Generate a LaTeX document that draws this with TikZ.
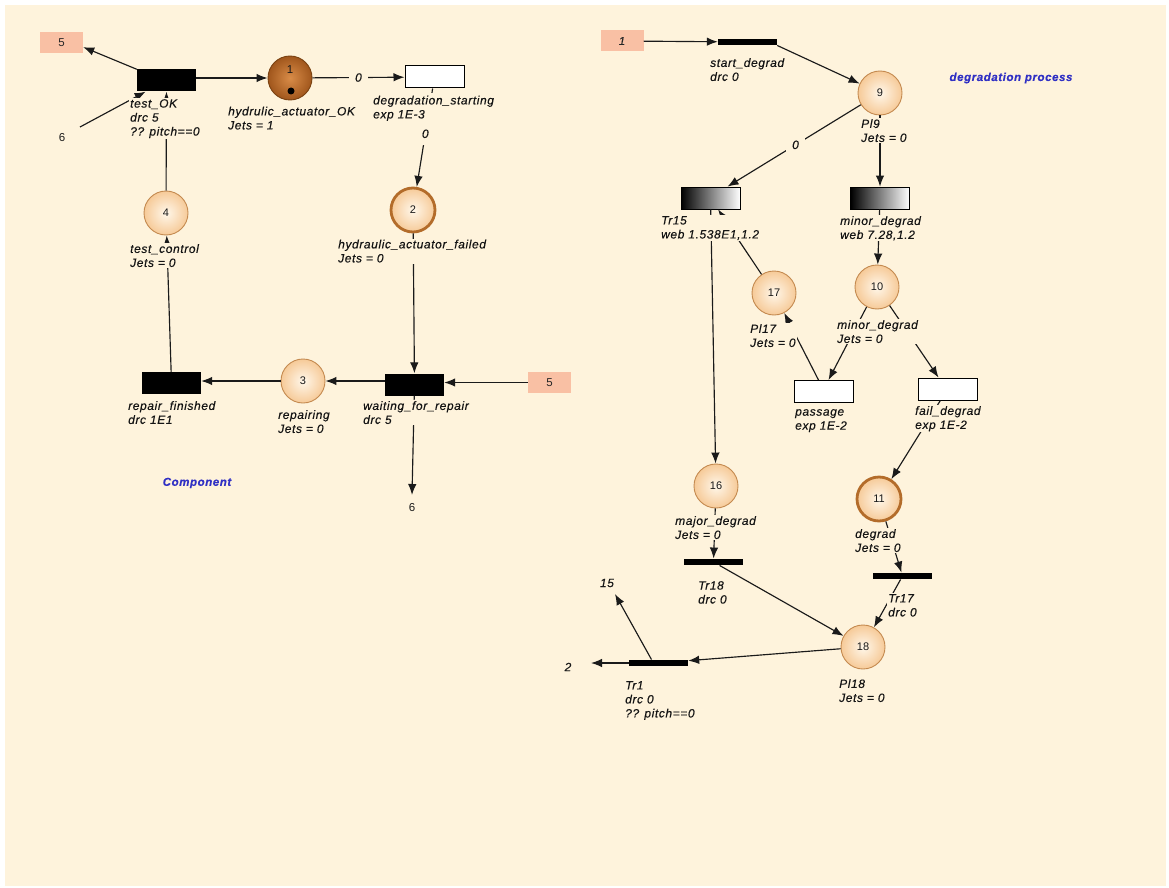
\documentclass[tikz,border=0pt]{standalone}
\usepackage{fontspec}
\setmainfont{Liberation Sans}
\newfontfamily\lblfamily{Liberation Sans}[LetterSpace=5,FakeBold=0.3]
\usetikzlibrary{arrows.meta,calc}

\definecolor{bg}{HTML}{FEF3DC}
\definecolor{salmon}{HTML}{F9C0A4}
\definecolor{pborder}{HTML}{C48A50}
\definecolor{pin}{HTML}{FFF7EA}
\definecolor{pout}{HTML}{F6CA98}
\definecolor{darkin}{HTML}{D98C48}
\definecolor{darkout}{HTML}{A0561C}
\definecolor{darkborder}{HTML}{7A4212}
\definecolor{thickborder}{HTML}{B36C2A}
\definecolor{bluetxt}{HTML}{3030C4}
\definecolor{linec}{HTML}{1A1A1A}

\begin{document}
\begin{tikzpicture}[x=1pt,y=-1pt,
  arc/.style={draw=linec, line width=1.15pt, -{Latex[length=11pt,width=8.5pt]}},
  place/.style={circle, minimum size=44pt, inner sep=0pt, draw=pborder, line width=0.9pt, inner color=pin, outer color=pout, text=black!90, font=\fontsize{11}{13}\selectfont},
  placedark/.style={place, draw=darkborder, inner color=darkin, outer color=darkout},
  placethick/.style={place, draw=thickborder, line width=2.8pt},
  trbox/.style={rectangle, minimum width=59pt, minimum height=22pt, inner sep=0pt},
  trblack/.style={trbox, fill=black},
  trwhite/.style={trbox, fill=white, draw=black, line width=1pt},
  trgrad/.style={trbox, left color=black, right color=white, draw=black, line width=0.8pt},
  trbar/.style={rectangle, minimum width=59pt, minimum height=6.5pt, inner sep=0pt, fill=black},
  refbox/.style={rectangle, fill=salmon, minimum width=43pt, minimum height=21pt, inner sep=0pt, text=black!85, font=\fontsize{11.5}{13}\selectfont},
  lbl/.style={anchor=north west, align=left, fill=bg, inner sep=1pt, text=black!92, font=\lblfamily\itshape\fontsize{12}{14}\selectfont},
  zlab/.style={fill=bg, inner xsep=6pt, inner ysep=4pt, text=black!92, font=\lblfamily\itshape\fontsize{12}{14}\selectfont},
  numup/.style={text=black!90, font=\fontsize{11.5}{13}\selectfont},
  numit/.style={text=black!90, font=\lblfamily\itshape\fontsize{12}{14}\selectfont},
  ttl/.style={text=bluetxt, font=\lblfamily\itshape\bfseries\fontsize{11.5}{13}\selectfont}
]
\useasboundingbox (0,0) rectangle (1169,888);
\fill[white] (0,0) rectangle (1169,888);
\fill[bg] (5,5) rectangle (1166,886);

% ---------------- left net: Component ----------------
\node[refbox] (box5L) at (61.5,42.5) {5};
\node[trblack] (testOK) at (166.5,80.5) {};
\node[placedark] (p1) at (290,78) {};
\node[circle, fill=black, minimum size=7pt, inner sep=0pt] (tok) at (291,91) {};
\node[numup] (p1num) at (290,70) {1};
\node[trwhite] (degStart) at (434.5,77) {};
\node[placethick] (p2) at (413,210) {2};
\node[place] (p4) at (166,213) {4};
\node[trblack] (waitRep) at (414.5,384.5) {};
\node[refbox] (box5R) at (549.5,382.5) {5};
\node[place] (p3) at (303,381) {3};
\node[trblack] (repFin) at (171.5,383) {};
\coordinate (c6) at (80,127);
\coordinate (c6b) at (412,495);
\node[numup] (l6a) at (62,138) {6};
\node[numup] (l6b) at (412,508) {6};

% ---------------- right net: degradation process ----------------
\node[refbox, font=\lblfamily\itshape\fontsize{11.5}{13}\selectfont] (box1) at (622,41) {1};
\node[trbar] (startDeg) at (747.5,42) {};
\node[place] (p9) at (880,93) {9};
\node[trgrad] (tr15) at (710.5,198) {};
\node[trgrad] (minDeg) at (880,198) {};
\node[place] (p17) at (774,293) {17};
\node[place] (p10) at (877,287) {10};
\node[trwhite] (passage) at (823.5,391.5) {};
\node[trwhite] (failDeg) at (947.5,389) {};
\node[place] (p16) at (716,486) {16};
\node[placethick] (p11) at (879,499) {11};
\node[trbar] (tr18) at (713.5,562) {};
\node[trbar] (tr17) at (902.5,576) {};
\node[place] (p18) at (863,647) {18};
\node[trbar] (tr1) at (658.5,663) {};
\coordinate (c2) at (591,663);
\coordinate (c15) at (615,594);
\node[numit] (l2) at (568,667) {2};
\node[numit] (l15) at (607,583) {15};

% ---------------- arcs ----------------
\draw[arc] (testOK.north west) -- (box5L.-12);
\draw[arc] (c6) -- (testOK);
\draw[arc] (testOK.east |- p1) -- (p1);
\draw[arc] (p1) -- node[zlab]{0} (degStart);
\draw[arc] (degStart) -- node[zlab,pos=0.46,inner ysep=7pt]{0} (p2);
\draw[arc] (p2) -- (waitRep);
\draw[arc] (box5R) -- (box5R -| waitRep.east);
\draw[arc] (waitRep.west |- p3) -- (p3);
\draw[arc] (waitRep) -- (c6b);
\draw[arc] (p3) -- (repFin.east |- p3);
\draw[arc] (repFin) -- (p4);
\draw[arc] (p4) -- (testOK);

\draw[arc] (box1) -- (startDeg);
\draw[arc] (startDeg.south east) -- (p9);
\draw[arc] (p9) -- node[zlab,pos=0.49]{0} ($(tr15.north)+(17,0)$);
\draw[arc] (p9) -- (minDeg);
\draw[arc] (minDeg) -- (p10);
\draw[arc] (tr15) -- (p16);
\draw[arc] (p17) -- (tr15);
\draw[arc] (p10) -- ($(passage.north)+(5,0)$);
\draw[arc] (p10) -- ($(failDeg.north)+(-9,0)$);
\draw[arc] ($(passage.north)+(-5,0)$) -- (p17);
\draw[arc] (failDeg) -- (p11);
\draw[arc] (p11) -- (tr17);
\draw[arc] (tr17) -- (p18);
\draw[arc] (p16) -- (tr18);
\draw[arc] (tr18) -- (p18);
\draw[arc] (p18) -- (tr1);
\draw[arc] (tr1.west) -- (c2);
\draw[arc] ($(tr1.north)+(-7,0)$) -- (c15);

% ---------------- labels ----------------
\node[lbl] (lTestOK) at (129,98) {test\_OK\\drc 5\\?? pitch==0};
\node[lbl] (lP1) at (227,105.5) {hydrulic\_actuator\_OK\\Jets = 1};
\node[lbl, inner ysep=3pt] (lDeg) at (372,92.5) {degradation\_starting\\exp 1E-3};
\node[lbl] (lP2) at (337,238.5) {hydraulic\_actuator\_failed\\Jets = 0};
\node[lbl] (lP4) at (129,243) {test\_control\\Jets = 0};
\node[lbl] (lRep) at (127,400) {repair\_finished\\drc 1E1};
\node[lbl] (lP3) at (277,409) {repairing\\Jets = 0};
\node[lbl] (lWait) at (362,400) {waiting\_for\_repair\\drc 5};
\node[ttl] (tComp) at (197,483) {Component};

\node[lbl] (lStart) at (709,57) {start\_degrad\\drc 0};
\node[lbl] (lP9) at (860,118) {Pl9\\Jets = 0};
\node[lbl] (lTr15) at (660,215) {Tr15\\web 1.538E1,1.2};
\node[lbl] (lMin) at (839,215) {minor\_degrad\\web 7.28,1.2};
\node[lbl] (lP17) at (749,323) {Pl17\\Jets = 0};
\node[lbl] (lP10) at (836,319) {minor\_degrad\\Jets = 0};
\node[lbl] (lPass) at (794,408) {passage\\exp 1E-2};
\node[lbl] (lFail) at (914,405) {fail\_degrad\\exp 1E-2};
\node[lbl] (lP16) at (674,515) {major\_degrad\\Jets = 0};
\node[lbl] (lP11) at (854,528) {degrad\\Jets = 0};
\node[lbl] (lTr18) at (697,580) {Tr18\\drc 0};
\node[lbl] (lTr17) at (887,593) {Tr17\\drc 0};
\node[lbl] (lTr1) at (624,680) {Tr1\\drc 0\\?? pitch==0};
\node[lbl] (lP18) at (838,678) {Pl18\\Jets = 0};
\node[ttl] (tDeg) at (1011,78) {degradation process};
\end{tikzpicture}
\end{document}
